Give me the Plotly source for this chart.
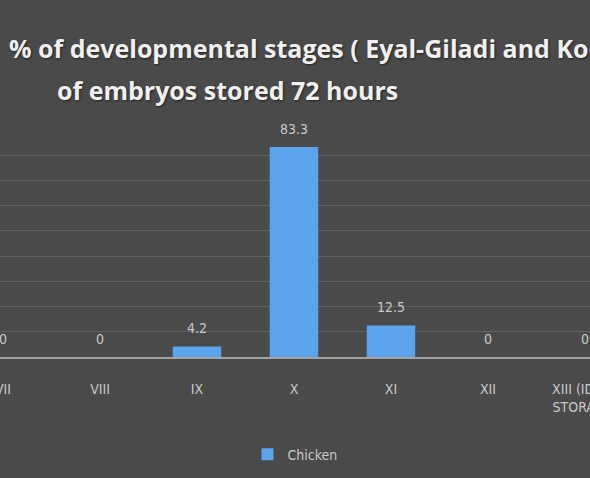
import plotly.graph_objects as go

categories = ["VII", "VIII", "IX", "X", "XI", "XII", "XIII (IDEAL<br>STORAGE)"]
values = [0, 0, 4.2, 83.3, 12.5, 0, 0]
series_name = "Chicken"
title_line1 = "% of developmental stages ( Eyal-Giladi and Kochav )"
title_line2 = "of embryos stored 72 hours"

FONT = "Open Sans"
NARROW = "Liberation Sans Narrow, DejaVu Sans Condensed, Open Sans"
LABEL_COLOR = "#c9c9c9"
BG = "#4a4a4a"

fig = go.Figure()
fig.add_trace(go.Bar(
    x=list(range(len(categories))),
    y=values,
    name=series_name,
    marker=dict(color="#5ba3ea", line=dict(width=0)),
    width=0.5,
    showlegend=True,
))

annotations = []
for i, v in enumerate(values):
    annotations.append(dict(
        x=i, y=v, xref="x", yref="y", text=f"{v:g}", showarrow=False,
        yanchor="bottom", yshift=8,
        font=dict(family=NARROW, size=14, color=LABEL_COLOR),
    ))

title_font = dict(family=FONT, size=25, color="#f0f0f0", weight=700,
                  shadow="1px 1px 2px #222")
annotations.append(dict(
    x=0, y=1.0, xref="paper", yref="paper", xanchor="left", yanchor="bottom",
    xshift=7, yshift=63, text=title_line1, showarrow=False, font=title_font,
))
annotations.append(dict(
    x=0, y=1.0, xref="paper", yref="paper", xanchor="left", yanchor="bottom",
    xshift=55, yshift=21, text=title_line2, showarrow=False, font=title_font,
))

fig.update_layout(
    width=590, height=478,
    margin=dict(l=0, r=0, t=130, b=121, autoexpand=False),
    paper_bgcolor=BG, plot_bgcolor=BG,
    font=dict(family=FONT, color=LABEL_COLOR),
    annotations=annotations,
    legend=dict(
        orientation="h", x=0.5, xanchor="center", y=-0.43, yanchor="middle",
        font=dict(family=NARROW, size=14, color=LABEL_COLOR),
        bgcolor="rgba(0,0,0,0)", itemwidth=30,
    ),
    xaxis=dict(
        range=[-0.031, 6.052],
        tickmode="array",
        tickvals=list(range(len(categories))),
        ticktext=categories,
        showgrid=False,
        showline=True, linecolor="#a2a2a2", linewidth=2,
        ticks="", ticklabelstandoff=18, ticklabeloverflow="allow",
        tickfont=dict(family=NARROW, size=14, color=LABEL_COLOR),
        fixedrange=True,
    ),
    yaxis=dict(
        range=[0, 90], dtick=10,
        showgrid=True, gridcolor="#636363", gridwidth=1,
        zeroline=False, showticklabels=False,
        fixedrange=True,
    ),
)

fig.write_html(
    "out.html",
    config={"displayModeBar": False},
    post_script="document.body.style.margin='0';document.body.style.overflow='hidden';",
)
